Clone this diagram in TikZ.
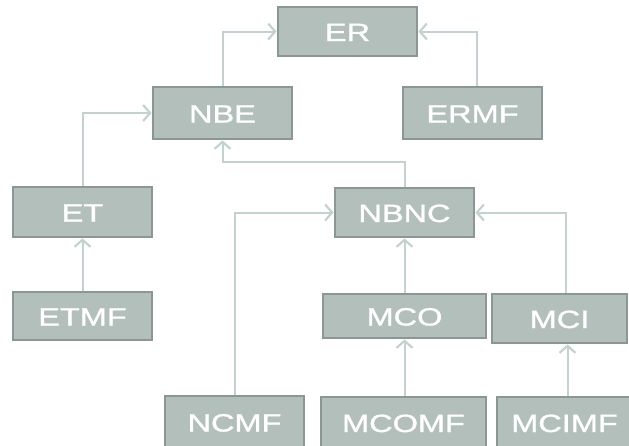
\documentclass[tikz,border=0pt]{standalone}
\usepackage{fontspec}
\setmainfont[FakeBold=1]{Liberation Sans}
\usetikzlibrary{arrows.meta}
\definecolor{boxfill}{HTML}{B3BFBA}
\definecolor{boxline}{HTML}{8A9792}
\definecolor{linkcol}{HTML}{C4D2CE}
\newcommand{\wide}[1]{\scalebox{1.3}[1]{#1}}
\begin{document}
\begin{tikzpicture}[x=1pt,y=-1pt,
  blockbox/.style={rectangle,draw=boxline,fill=boxfill,line width=2.8pt,
    inner sep=0pt,text=white,text height=19pt,text depth=-1pt,
    font=\fontsize{25}{25}\selectfont},
  link/.style={draw=linkcol,line width=2pt,
    -{Straight Barb[length=7pt,width=16pt,line width=2.2pt]}}]
\useasboundingbox (0,0) rectangle (629,445);
\clip (0,0) rectangle (629,445);
% boxes
\node[blockbox,minimum width=139pt,minimum height=49pt] (er)   at (347.5,31.5) {\wide{ER}};
\node[blockbox,minimum width=139pt,minimum height=52pt] (nbe)  at (222.5,113)  {\wide{NBE}};
\node[blockbox,minimum width=139pt,minimum height=52pt] (ermf) at (472.5,113)  {\wide{ERMF}};
\node[blockbox,minimum width=139pt,minimum height=50pt] (et)   at (82.5,212)   {\wide{ET}};
\node[blockbox,minimum width=139pt,minimum height=48pt] (etmf) at (82.5,316)   {\wide{ETMF}};
\node[blockbox,minimum width=139pt,minimum height=49pt] (nbnc) at (404.5,212.5){\wide{NBNC}};
\node[blockbox,minimum width=163pt,minimum height=44pt] (mco)  at (404.5,316)  {\wide{MCO}};
\node[blockbox,minimum width=135pt,minimum height=49pt] (mci)  at (559.5,318.5){\wide{MCI}};
\node[blockbox,minimum width=139pt,minimum height=52pt] (ncmf) at (234.5,422)  {\wide{NCMF}};
\node[blockbox,minimum width=165pt,minimum height=51pt] (mcomf) at (403.5,422.5){\wide{MCOMF}};
\node[blockbox,minimum width=135pt,minimum height=51pt] (mcimf) at (564.5,422.5){\wide{MCIMF}};
% connectors
\draw[link] (nbe.north) |- (er.west);
\draw[link] ([xshift=4.5pt]ermf.north) |- (er.east);
\draw[link] (et.north) |- (nbe.west);
\draw[link] (nbnc.north) -- ++(0,-25) -| (nbe.south);
\draw[link] (etmf.north) -- (et.south);
\draw[link] (ncmf.north) |- (nbnc.west);
\draw[link] (mco.north) -- (nbnc.south);
\draw[link] ([xshift=6pt]mci.north) |- (nbnc.east);
\draw[link] (mcomf.north -| mco.south) -- (mco.south);
\draw[link] ([xshift=3pt]mcimf.north) -- ([xshift=3pt]mcimf.north |- mci.south);
\end{tikzpicture}
\end{document}
